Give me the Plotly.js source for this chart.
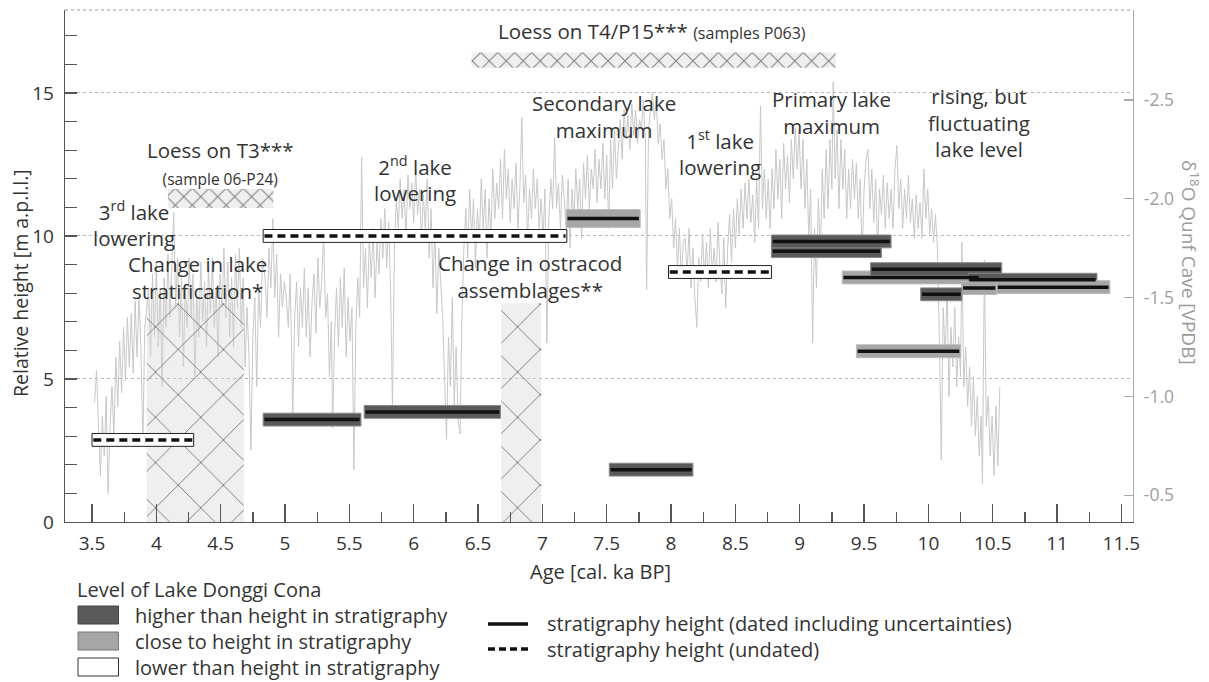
<!DOCTYPE html>
<html>
<head>
<meta charset="utf-8">
<script src="https://cdn.plot.ly/plotly-3.0.1.min.js"></script>
<style>
  html, body { margin: 0; padding: 0; background: #ffffff; }
  #chart { width: 1209px; height: 682px; }
</style>
</head>
<body>
<div id="chart"></div>
<script>
// ---------------- data ----------------
// Age axis ticks [cal. ka BP]
const ageTickVals = [3.5, 4, 4.5, 5, 5.5, 6, 6.5, 7, 7.5, 8, 8.5, 9, 9.5, 10, 10.5, 11, 11.5];
const ageTickText = ['3.5', '4', '4.5', '5', '5.5', '6', '6.5', '7', '7.5', '8', '8.5', '9', '9.5', '10', '10.5', '11', '11.5'];
// Relative height axis ticks [m a.p.l.l.]
const heightTickVals = [0, 5, 10, 15];
// Qunf Cave d18O axis ticks [VPDB]
const qunfTickVals = [-2.5, -2.0, -1.5, -1.0, -0.5];
const qunfTickText = ['-2.5', '-2.0', '-1.5', '-1.0', '-0.5'];

// Qunf Cave speleothem d18O record
const qunfAge = [
  3.52, 3.535, 3.55, 3.565, 3.58, 3.595, 3.61, 3.625, 3.64, 3.655, 3.67, 3.685, 3.70, 3.715, 3.73, 3.745, 3.76, 3.775, 3.79, 3.805,
  3.82, 3.835, 3.85, 3.865, 3.88, 3.895, 3.91, 3.925, 3.94, 3.955, 3.97, 3.985, 4.00, 4.015, 4.03, 4.045, 4.06, 4.075, 4.09, 4.105,
  4.12, 4.135, 4.15, 4.165, 4.18, 4.195, 4.21, 4.225, 4.24, 4.255, 4.27, 4.285, 4.30, 4.315, 4.33, 4.345, 4.36, 4.375, 4.39, 4.405,
  4.42, 4.435, 4.45, 4.465, 4.48, 4.495, 4.51, 4.525, 4.54, 4.555, 4.57, 4.585, 4.60, 4.615, 4.63, 4.645, 4.66, 4.675, 4.69, 4.705,
  4.72, 4.735, 4.75, 4.765, 4.78, 4.795, 4.81, 4.825, 4.845, 4.86, 4.875, 4.89, 4.905, 4.92, 4.935, 4.95, 4.965, 4.98, 4.995, 5.01,
  5.025, 5.04, 5.06, 5.075, 5.09, 5.105, 5.12, 5.135, 5.15, 5.165, 5.18, 5.195, 5.21, 5.225, 5.24, 5.255, 5.27, 5.285, 5.30, 5.315,
  5.33, 5.345, 5.36, 5.37, 5.385, 5.40, 5.415, 5.43, 5.445, 5.46, 5.475, 5.49, 5.505, 5.52, 5.535, 5.55, 5.565, 5.58, 5.595, 5.61,
  5.625, 5.64, 5.655, 5.67, 5.685, 5.70, 5.715, 5.73, 5.745, 5.76, 5.775, 5.79, 5.805, 5.82, 5.835, 5.85, 5.865, 5.88, 5.895, 5.91,
  5.925, 5.94, 5.955, 5.97, 5.985, 6.00, 6.015, 6.03, 6.045, 6.06, 6.075, 6.09, 6.105, 6.12, 6.135, 6.15, 6.165, 6.18, 6.195, 6.21,
  6.225, 6.24, 6.255, 6.27, 6.285, 6.30, 6.315, 6.33, 6.345, 6.36, 6.375, 6.39, 6.405, 6.42, 6.435, 6.45, 6.465, 6.48, 6.495, 6.51,
  6.525, 6.54, 6.555, 6.57, 6.585, 6.60, 6.615, 6.63, 6.645, 6.66, 6.675, 6.69, 6.705, 6.72, 6.735, 6.75, 6.765, 6.78, 6.795, 6.81,
  6.825, 6.84, 6.855, 6.87, 6.885, 6.90, 6.915, 6.93, 6.945, 6.96, 6.975, 6.99, 7.005, 7.02, 7.035, 7.05, 7.065, 7.08, 7.095, 7.11,
  7.125, 7.14, 7.155, 7.17, 7.185, 7.20, 7.215, 7.23, 7.245, 7.26, 7.275, 7.29, 7.305, 7.32, 7.335, 7.35, 7.365, 7.38, 7.395, 7.41,
  7.425, 7.44, 7.455, 7.47, 7.485, 7.50, 7.515, 7.53, 7.545, 7.56, 7.575, 7.59, 7.605, 7.62, 7.635, 7.65, 7.665, 7.68, 7.695, 7.71,
  7.725, 7.74, 7.755, 7.77, 7.785, 7.80, 7.81, 7.825, 7.84, 7.855, 7.87, 7.885, 7.90, 7.915, 7.93, 7.945, 7.96, 7.975, 7.99, 8.005,
  8.02, 8.035, 8.05, 8.065, 8.08, 8.095, 8.11, 8.125, 8.14, 8.155, 8.17, 8.185, 8.20, 8.215, 8.23, 8.245, 8.26, 8.275, 8.29, 8.305,
  8.32, 8.335, 8.35, 8.365, 8.38, 8.395, 8.41, 8.425, 8.44, 8.455, 8.47, 8.485, 8.50, 8.515, 8.53, 8.545, 8.56, 8.575, 8.59, 8.605,
  8.62, 8.635, 8.65, 8.665, 8.68, 8.695, 8.71, 8.725, 8.74, 8.755, 8.77, 8.785, 8.80, 8.815, 8.83, 8.845, 8.86, 8.875, 8.89, 8.905,
  8.92, 8.935, 8.95, 8.965, 8.98, 8.995, 9.01, 9.025, 9.04, 9.055, 9.07, 9.085, 9.10, 9.115, 9.13, 9.145, 9.16, 9.175, 9.19, 9.205,
  9.22, 9.235, 9.25, 9.26, 9.275, 9.29, 9.305, 9.32, 9.335, 9.35, 9.365, 9.38, 9.395, 9.41, 9.425, 9.44, 9.455, 9.47, 9.485, 9.50,
  9.515, 9.53, 9.545, 9.56, 9.575, 9.59, 9.605, 9.62, 9.635, 9.65, 9.665, 9.68, 9.695, 9.71, 9.725, 9.74, 9.755, 9.77, 9.785, 9.80,
  9.815, 9.83, 9.845, 9.86, 9.875, 9.89, 9.905, 9.92, 9.935, 9.95, 9.965, 9.98, 9.995, 10.01, 10.025, 10.04, 10.055, 10.07, 10.085, 10.10,
  10.115, 10.13, 10.145, 10.16, 10.175, 10.19, 10.205, 10.22, 10.235, 10.25, 10.26, 10.275, 10.29, 10.305, 10.32, 10.335, 10.35, 10.365, 10.38, 10.395,
  10.41, 10.42, 10.435, 10.45, 10.465, 10.48, 10.495, 10.51, 10.525, 10.54, 10.555
];
const qunfD18O = [
  -0.97, -1.13, -0.85, -0.60, -0.90, -0.70, -1.00, -0.51, -0.85, -1.05, -0.80, -1.20, -0.95, -1.28, -1.02, -1.35, -1.08, -1.40, -1.15, -1.42,
  -1.12, -1.48, -1.20, -1.50, -1.25, -0.75, -1.35, -1.45, -1.55, -1.20, -1.62, -1.30, -1.68, -1.25, -1.55, -1.05, -1.60, -1.35, -1.72, -1.40,
  -1.65, -1.93, -1.45, -1.70, -1.30, -1.60, -1.15, -1.55, -1.35, -1.70, -1.40, -1.62, -1.10, -1.50, -1.30, -1.68, -1.38, -1.58, -1.25, -1.65,
  -1.42, -1.70, -1.35, -1.55, -1.20, -1.62, -1.45, -1.75, -1.40, -1.68, -1.30, -1.60, -1.25, -1.72, -1.45, -1.75, -1.35, -1.60, -1.15, -1.45,
  -1.20, -0.73, -1.30, -1.50, -1.05, -1.55, -1.35, -1.70, -1.60, -1.40, -1.75, -1.55, -1.90, -1.50, -1.72, -1.30, -1.62, -1.45, -1.58, -1.50,
  -1.35, -1.62, -0.91, -1.40, -1.58, -1.25, -1.55, -1.35, -1.65, -1.30, -1.55, -1.20, -1.48, -1.62, -1.32, -1.70, -1.45, -1.58, -1.83, -1.40,
  -1.52, -1.10, -1.38, -0.84, -1.30, -1.55, -1.25, -1.60, -1.35, -1.65, -1.20, -1.50, -1.28, -1.45, -0.63, -1.35, -1.60, -1.40, -2.21, -1.55,
  -1.75, -1.45, -1.80, -1.60, -1.85, -1.50, -1.78, -1.62, -1.90, -1.70, -1.95, -1.65, -1.88, -1.55, -0.95, -1.75, -2.00, -1.85, -2.10, -1.90,
  -2.05, -1.80, -2.12, -1.95, -2.08, -1.88, -2.15, -1.92, -2.05, -1.78, -2.02, -1.85, -2.10, -1.70, -1.95, -1.55, -1.85, -1.42, -1.75, -1.60,
  -1.40, -1.10, -0.78, -1.30, -1.05, -1.50, -0.95, -1.25, -0.88, -0.81, -1.40, -1.75, -1.95, -1.70, -2.05, -1.80, -2.00, -1.65, -1.95, -1.78,
  -2.10, -1.85, -2.05, -1.70, -2.00, -1.82, -2.15, -1.90, -2.08, -1.95, -2.20, -1.90, -2.25, -2.00, -2.15, -1.88, -2.10, -1.95, -2.18, -1.85,
  -2.05, -2.41, -1.98, -2.12, -1.80, -2.05, -1.90, -2.15, -1.95, -2.10, -1.85, -2.00, -1.80, -2.05, -1.27, -1.90, -2.10, -1.95, -2.31, -1.95,
  -2.08, -1.85, -2.12, -2.00, -1.85, -2.10, -1.75, -2.05, -1.90, -2.15, -1.95, -2.10, -1.80, -2.18, -2.00, -2.22, -1.95, -2.15, -2.05, -2.25,
  -1.98, -2.20, -2.05, -2.28, -2.00, -2.22, -1.85, -2.30, -2.05, -2.35, -2.10, -2.25, -2.40, -2.20, -2.45, -2.30, -2.42, -2.25, -2.48, -2.32,
  -2.45, -2.28, -2.40, -2.35, -2.50, -2.30, -1.54, -2.35, -2.45, -2.54, -2.40, -2.50, -2.28, -2.38, -2.20, -2.30, -2.05, -2.15, -1.90, -2.00,
  -1.75, -1.90, -1.65, -1.85, -1.60, -1.78, -1.80, -1.62, -1.85, -1.55, -1.75, -1.50, -1.35, -1.70, -1.58, -1.82, -1.60, -1.78, -1.55, -1.85,
  -1.62, -1.75, -1.58, -1.88, -1.65, -1.52, -1.80, -1.45, -1.75, -1.92, -1.68, -1.95, -1.75, -2.00, -1.82, -2.05, -1.85, -2.08, -1.90, -2.10,
  -1.88, -2.02, -1.78, -2.10, -1.85, -2.47, -1.95, -2.15, -1.90, -2.10, -1.85, -2.15, -1.95, -2.25, -2.00, -2.20, -1.90, -2.28, -2.05, -2.22,
  -1.98, -2.30, -2.10, -2.36, -2.15, -2.35, -2.05, -2.30, -1.95, -2.20, -1.80, -2.05, -1.27, -1.85, -1.55, -2.00, -1.70, -2.15, -1.90, -2.25,
  -1.95, -2.30, -2.05, -2.59, -2.10, -2.35, -1.95, -2.30, -2.05, -2.25, -1.90, -2.15, -1.95, -2.20, -2.00, -2.18, -1.90, -2.10, -1.70, -2.05,
  -2.20, -2.25, -1.95, -2.15, -1.88, -2.10, -1.72, -2.05, -1.92, -2.12, -1.85, -2.08, -1.90, -2.05, -1.85, -2.15, -2.27, -1.95, -2.10, -1.85,
  -2.05, -1.90, -2.12, -1.88, -2.00, -1.80, -2.02, -1.85, -1.98, -1.80, -2.15, -1.90, -2.05, -1.82, -1.95, -1.78, -1.92, -1.75, -1.30, -0.68,
  -1.45, -1.20, -1.55, -1.00, -1.35, -1.15, -1.45, -1.05, -1.30, -1.10, -1.78, -1.05, -1.25, -0.95, -1.15, -0.85, -1.10, -0.80, -1.00, -0.70,
  -0.90, -0.56, -1.69, -0.85, -1.00, -0.70, -0.90, -0.60, -0.95, -0.65, -1.05
];

// Dated/undated stratigraphy heights and the inferred lake level of Lake Donggi Cona
const levelStart  = [4.83, 5.615, 3.50, 4.83, 7.185, 7.52, 7.98, 8.78, 8.78, 9.33, 9.55, 10.31, 10.26, 10.53, 9.94, 9.44];
const levelEnd    = [5.59, 6.675, 4.29, 7.19, 7.76, 8.17, 8.78, 9.635, 9.71, 10.40, 10.57, 11.31, 10.53, 11.41, 10.26, 10.25];
const levelHeight = [3.58, 3.85, 2.87, 10.0, 10.61, 1.83, 8.74, 9.47, 9.81, 8.55, 8.84, 8.47, 8.18, 8.21, 7.96, 5.97];
const levelClass  = ['higher', 'higher', 'lower', 'lower', 'close', 'higher', 'lower', 'higher', 'higher', 'close', 'higher', 'higher', 'close', 'close', 'higher', 'close'];
const levelDated  = [true, true, false, false, true, true, false, true, true, true, true, true, true, true, true, true];

// Hatched intervals: lake stratification, ostracod change, loess on T3 and on T4/P15
const hatchStart  = [3.925, 6.68, 4.09, 6.45];
const hatchEnd    = [4.68, 6.99, 4.91, 9.28];
const hatchBottom = [0, 0, 10.98, 15.88];
const hatchTop    = [7.65, 7.65, 11.64, 16.41];

// ---------------- styling ----------------
const FONT = 'Open Sans, sans-serif';
const TXT = '#333333';
const AXIS = '#555555';
const LABEL_SIZE = 20.5;
const LEGEND_SIZE = 20;
const hatchCell = [32, 32, 12, 12];
const hatchSolidity = [0.06, 0.06, 0.16, 0.16];
const levelFill = { higher: '#5a5a5a', close: '#a6a6a6', lower: '#ffffff' };
const levelEdge = { higher: '#8a8a8a', close: '#bababa', lower: '#222222' };
const levelBand = (i) => (levelClass[i] === 'close' && levelHeight[i] > 10.5 ? 0.62 : 0.45);

// pixel helpers for paper-referenced legend items
const ML = 65, MR = 76, MT = 10, MB = 160, W = 1209, H = 682;
const PW = W - ML - MR, PH = H - MT - MB;
const pxX = (p) => (p - ML) / PW;
const pxY = (p) => (H - MB - p) / PH;

const traces = [];

// Qunf Cave record on the base (right) axis, beneath the overlaid height layer
traces.push({
  type: 'scatter', mode: 'lines', yaxis: 'y',
  x: qunfAge, y: qunfD18O,
  line: { color: '#c8c8c8', width: 1 }, hoverinfo: 'skip'
});

// hatched intervals (left height axis)
hatchStart.forEach((s, i) => {
  const e = hatchEnd[i], b = hatchBottom[i], t = hatchTop[i];
  traces.push({
    type: 'scatter', mode: 'lines', yaxis: 'y2',
    x: [s, e, e, s, s], y: [b, b, t, t, b],
    fill: 'toself', fillcolor: 'rgba(215,215,215,0.40)',
    fillpattern: { shape: 'x', size: hatchCell[i], solidity: hatchSolidity[i], fgcolor: '#7d7d7d', bgcolor: 'rgba(215,215,215,0.40)', fgopacity: 1 },
    line: { width: 0, color: 'rgba(0,0,0,0)' }, hoverinfo: 'skip'
  });
});

// lake level bands
levelStart.forEach((s, i) => {
  const e = levelEnd[i], c = levelHeight[i], h = levelBand(i) / 2;
  traces.push({
    type: 'scatter', mode: 'lines', yaxis: 'y2',
    x: [s, e, e, s, s], y: [c - h, c - h, c + h, c + h, c - h],
    fill: 'toself', fillcolor: levelFill[levelClass[i]],
    line: { width: 1, color: levelEdge[levelClass[i]] }, hoverinfo: 'skip'
  });
});

// stratigraphy heights (solid: dated, dashed: undated)
levelStart.forEach((s, i) => {
  traces.push({
    type: 'scatter', mode: 'lines', yaxis: 'y2',
    x: [s + 0.01, levelEnd[i] - 0.01], y: [levelHeight[i], levelHeight[i]],
    line: { width: 3.5, color: '#111111', dash: levelDated[i] ? 'solid' : '8px,5px' }, hoverinfo: 'skip'
  });
});

// ---------------- annotations ----------------
const ann = [];
function label(text, x, y, size, extra) {
  ann.push(Object.assign({ text: text, x: x, y: y, xref: 'x', yref: 'y2', showarrow: false,
    xanchor: 'center', yanchor: 'middle', align: 'center', font: { family: FONT, size: size, color: TXT } }, extra || {}));
}
label('Loess on T4/P15*** <span style="font-size:16px">(samples P063)</span>', 6.64, 17.15, LABEL_SIZE, { xanchor: 'left' });
label('Loess on T3***<br><span style="font-size:15.5px">(sample 06-P24)</span>', 4.502, 12.54, LABEL_SIZE);
label('3<sup>rd</sup> lake<br>lowering', 3.826, 10.42, LABEL_SIZE);
label('Change in lake<br>stratification*', 4.32, 8.56, LABEL_SIZE);
label('2<sup>nd</sup> lake<br>lowering', 6.01, 11.99, LABEL_SIZE);
label('Secondary lake<br>maximum', 7.48, 14.17, LABEL_SIZE);
label('1<sup>st</sup> lake<br>lowering', 8.38, 12.9, LABEL_SIZE);
label('Change in ostracod<br>assemblages**', 6.903, 8.57, LABEL_SIZE);
label('Primary lake<br>maximum', 9.25, 14.3, LABEL_SIZE);
label('rising, but<br>fluctuating<br>lake level', 10.39, 13.98, LABEL_SIZE);

function paperText(text, px, py, size, color, extra) {
  ann.push(Object.assign({ text: text, x: pxX(px), y: pxY(py), xref: 'paper', yref: 'paper', showarrow: false,
    xanchor: 'left', yanchor: 'middle', font: { family: FONT, size: size, color: color } }, extra || {}));
}
// axis titles
paperText('Relative height [m a.p.l.l.]', 20, 283, 19.5, TXT, { xanchor: 'center', textangle: -90 });
paperText('δ<sup>18</sup>O Qunf Cave [VPDB]', 1190, 262, 19, '#9c9c9c', { xanchor: 'center', textangle: 90 });
paperText('Age [cal. ka BP]', 600, 571, 20, TXT, { xanchor: 'center' });
// legend
paperText('Level of Lake Donggi Cona', 75, 589, LEGEND_SIZE, TXT);
paperText('higher than height in stratigraphy', 133, 615, LEGEND_SIZE, TXT);
paperText('close to height in stratigraphy', 133, 641, LEGEND_SIZE, TXT);
paperText('lower than height in stratigraphy', 133, 667, LEGEND_SIZE, TXT);
paperText('stratigraphy height (dated including uncertainties)', 545, 623, LEGEND_SIZE, TXT);
paperText('stratigraphy height (undated)', 545, 649, LEGEND_SIZE, TXT);

const shapes = [
  // dotted upper frame
  { type: 'line', xref: 'paper', yref: 'paper', x0: 0, x1: 1, y0: 1, y1: 1, line: { color: '#9a9a9a', width: 1, dash: 'dot' } },
  // legend swatches
  { type: 'rect', xref: 'paper', yref: 'paper', x0: pxX(78), x1: pxX(118.5), y0: pxY(606), y1: pxY(624), fillcolor: levelFill.higher, line: { color: '#444', width: 1 } },
  { type: 'rect', xref: 'paper', yref: 'paper', x0: pxX(78), x1: pxX(118.5), y0: pxY(632), y1: pxY(650), fillcolor: levelFill.close, line: { color: '#777', width: 1 } },
  { type: 'rect', xref: 'paper', yref: 'paper', x0: pxX(78), x1: pxX(118.5), y0: pxY(658), y1: pxY(676), fillcolor: levelFill.lower, line: { color: '#333', width: 1 } },
  { type: 'line', xref: 'paper', yref: 'paper', x0: pxX(488), x1: pxX(528), y0: pxY(624), y1: pxY(624), line: { color: '#111', width: 3.5 } },
  { type: 'line', xref: 'paper', yref: 'paper', x0: pxX(488), x1: pxX(528), y0: pxY(649), y1: pxY(649), line: { color: '#111', width: 3.5, dash: '7px,4px' } }
];

const layout = {
  width: W, height: H,
  margin: { l: ML, r: MR, t: MT, b: MB },
  paper_bgcolor: '#ffffff', plot_bgcolor: 'rgba(0,0,0,0)',
  showlegend: false, hovermode: false,
  font: { family: FONT, size: 18, color: TXT },
  xaxis: {
    range: [3.29, 11.59], tickmode: 'array', tickvals: ageTickVals, ticktext: ageTickText,
    ticks: 'inside', ticklen: 18, tickwidth: 1.3, tickcolor: AXIS,
    showline: true, linecolor: AXIS, linewidth: 1.3, showgrid: false, zeroline: false,
    tickfont: { family: FONT, size: 19, color: TXT }, ticklabelstandoff: 4,
    minor: { tickmode: 'linear', tick0: 0, dtick: 0.25, ticks: 'inside', ticklen: 10, tickwidth: 1.3, tickcolor: AXIS, showgrid: false }
  },
  yaxis: {
    range: [-0.365, -2.955], side: 'right', anchor: 'x',
    tickmode: 'array', tickvals: qunfTickVals, ticktext: qunfTickText,
    ticks: 'inside', ticklen: 9, tickwidth: 1.2, tickcolor: '#aaaaaa',
    showline: true, linecolor: '#aaaaaa', linewidth: 1.3, showgrid: false, zeroline: false,
    tickfont: { family: FONT, size: 17.5, color: '#9e9e9e' }, ticklabelstandoff: 6
  },
  yaxis2: {
    range: [0, 17.9], side: 'left', overlaying: 'y', anchor: 'x',
    tickmode: 'array', tickvals: heightTickVals,
    ticks: 'inside', ticklen: 12, tickwidth: 1.3, tickcolor: AXIS,
    showline: true, linecolor: AXIS, linewidth: 1.3,
    showgrid: true, gridcolor: '#b5b5b5', griddash: 'dot', gridwidth: 1, zeroline: false,
    tickfont: { family: FONT, size: 19, color: TXT }, ticklabelstandoff: 6,
    minor: { tickmode: 'linear', tick0: 0, dtick: 1, ticks: 'inside', ticklen: 12, tickwidth: 1.3, tickcolor: AXIS, showgrid: false }
  },
  annotations: ann,
  shapes: shapes
};

Plotly.newPlot('chart', traces, layout, { displayModeBar: false, staticPlot: true });
</script>
</body>
</html>
